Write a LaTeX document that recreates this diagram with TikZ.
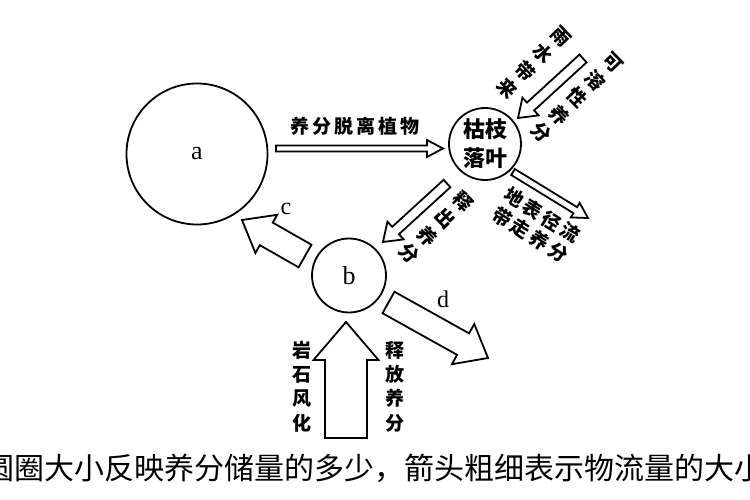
\documentclass[tikz,border=0pt]{standalone}
\usepackage{fontspec}
\setmainfont{Liberation Serif}
\newfontfamily\cjk{Noto Sans CJK SC}
\usetikzlibrary{calc}

\newcommand{\gap}{\hspace{3pt}}
\newcommand{\flowarrow}[5]{%
  \coordinate (h) at ($(#2)!#5!(#1)$);
  \draw[flow] ($(#1)!#3!90:(#2)$) -- ($(h)!#3!90:(#2)$) -- ($(h)!#4!90:(#2)$)
    -- (#2) -- ($(h)!#4!-90:(#2)$) -- ($(h)!#3!-90:(#2)$)
    -- ($(#1)!#3!-90:(#2)$) -- cycle;}

\begin{document}
\begin{tikzpicture}[x=1pt,y=-1pt,
    pool/.style={circle,draw,line width=1.8pt,inner sep=0pt},
    flow/.style={draw,line width=1.8pt,line join=miter,fill=white},
    lab/.style={font=\cjk\bfseries\fontsize{19}{25}\selectfont,align=center,inner sep=0pt},
    letter/.style={font=\fontsize{26}{26}\selectfont,inner sep=0pt}]

  \useasboundingbox (0,0) rectangle (750,500);

  \node[pool,minimum size=141pt,letter] (A) at (197,154) {a};
  \node[pool,minimum size=72pt,lab,font=\cjk\bfseries\fontsize{22}{29}\selectfont] (L) at (485,144) {枯枝\\落叶};
  \node[pool,minimum size=74pt,letter] (B) at (349,275.5) {b};

  \coordinate (As) at (276,148.5);  \coordinate (Ae) at (443,148.5);
  \coordinate (Rs) at (583,58.5);   \coordinate (Re) at (518,118);
  \coordinate (Os) at (447,183.5);  \coordinate (Oe) at (383,242);
  \coordinate (Ws) at (513,172);    \coordinate (We) at (588,218);
  \coordinate (Cs) at (305,256);    \coordinate (Ce) at (242,220);
  \coordinate (Ds) at (388.5,302.5);\coordinate (De) at (488,358);
  \coordinate (Us) at (346,438);    \coordinate (Ue) at (346,322);

  \flowarrow{As}{Ae}{3pt}{8.5pt}{16pt}
  \flowarrow{Rs}{Re}{5.3pt}{12pt}{17pt}
  \flowarrow{Os}{Oe}{5pt}{12pt}{17pt}
  \flowarrow{Ws}{We}{3.5pt}{8.5pt}{15pt}
  \flowarrow{Cs}{Ce}{13pt}{22pt}{28pt}
  \flowarrow{Ds}{De}{12.3pt}{23pt}{28.5pt}
  \flowarrow{Us}{Ue}{21pt}{32.5pt}{38pt}

  \node[lab] (t1) at (355,126) {养\gap 分\gap 脱\gap 离\gap 植\gap 物};
  \node[lab,rotate=-46] (t2) at (533.5,62.5) {雨\\水\\带\\来};
  \node[lab,rotate=-46] (t3) at (576.5,98) {可\\溶\\性\\养\\分};
  \node[lab,rotate=-46] (t4) at (436.5,227.5) {释\\出\\养\\分};
  \node[lab,rotate=-32,font=\cjk\bfseries\fontsize{19}{23}\selectfont] (t5) at (536,225)
    {地\gap 表\gap 径\gap 流\\带\gap 走\gap 养\gap 分};
  \node[lab,font=\cjk\bfseries\fontsize{19}{24.3}\selectfont] (t6) at (302,386.5) {岩\\石\\风\\化};
  \node[lab,font=\cjk\bfseries\fontsize{19}{24.3}\selectfont] (t7) at (395,386.5) {释\\放\\养\\分};

  \node[letter,font=\fontsize{24}{24}\selectfont] (c) at (286,209) {c};
  \node[letter,font=\fontsize{24}{24}\selectfont] (d) at (443,299) {d};

  \node[anchor=west,inner sep=0pt,font=\cjk\fontsize{30}{30}\selectfont] (cap) at (-16,468)
    {圆圈大小反映养分储量的多少，箭头粗细表示物流量的大小};
\end{tikzpicture}
\end{document}
